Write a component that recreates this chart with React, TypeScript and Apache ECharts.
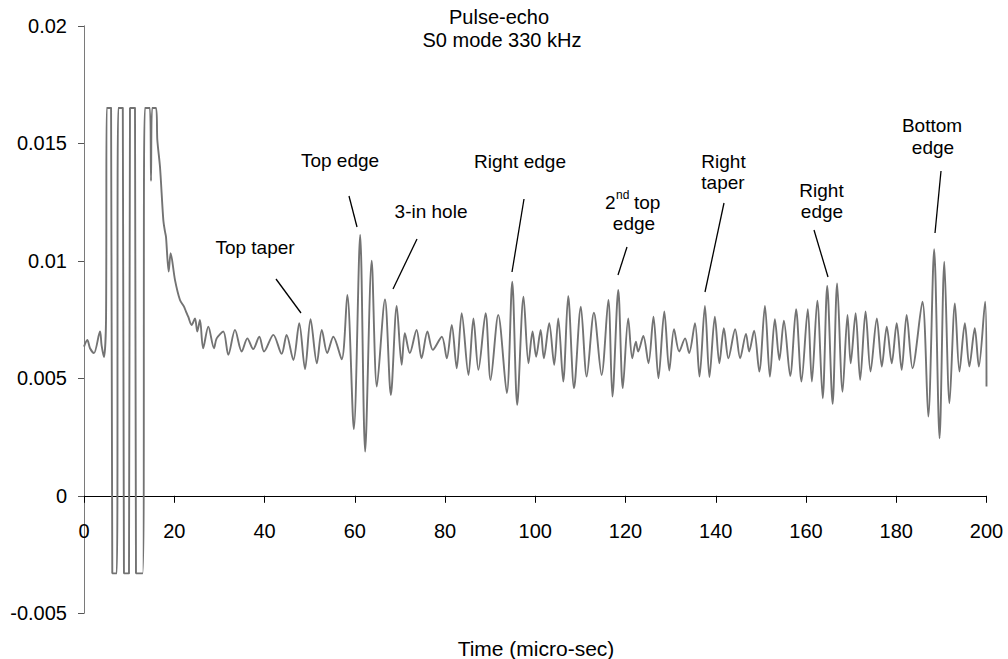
import React, { useEffect, useRef } from "react";
import * as echarts from "echarts";

const timeUs: number[] = [
  0, 0.74, 1.33, 2.2, 3.55, 3.9, 4.43, 4.88,
  5.03, 6.0, 6.27, 7.25, 7.6, 8.6, 8.85, 9.97, 10.19, 11.3, 11.52, 13.0, 13.5, 14.6, 14.85, 15.1, 15.96,
  16.25, 16.84, 17.58, 17.95, 18.17, 18.77, 19.2, 20.17, 21.27, 22.16, 22.6, 23.1, 23.86, 24.6, 25.1, 25.7,
  26.4, 27.55, 28.8, 29.4, 30.87, 31.98, 33.46, 34.95, 36.2, 37.5, 38.85, 39.9, 41.96, 43.8, 44.9, 46.4,
  47.7, 48.98, 50.2, 51.6, 52.7, 53.9, 55.25, 57.1, 58.35, 59.8, 61.2, 62.3, 63.75, 64.9, 66.7, 68.0,
  69.3, 70.4, 71.1, 72.2, 73.7, 74.8, 76.1, 77.3, 79.3, 80.4, 81.5, 82.6, 83.7, 85.2, 86.3, 87.4,
  89.0, 90.1, 91.8, 93.7, 94.9, 96.0, 97.4, 98.5, 99.4, 100.2, 101.2, 101.9, 103.1, 104.2, 105.1,
  106.2, 107.3, 108.6, 110.1, 111.4, 113.0, 114.7, 116.2, 117.1, 118.4, 119.4, 120.6, 121.5, 122.3,
  122.8, 123.95, 125.1, 126.2, 127.3, 128.6, 129.7, 130.75, 131.9, 133.2, 134.1, 135.4, 136.4, 137.6,
  138.6, 139.8, 140.8, 141.8, 142.8, 144.3, 145.4, 146.7, 147.4, 148.5, 149.65, 150.9, 152.0, 153.1,
  154.1, 155.1, 156.5, 157.8, 159.0, 160.4, 161.3, 162.5, 163.7, 164.7, 165.9, 166.9, 168.1, 169.2,
  169.9, 171.0, 172.0, 173.2, 174.3, 175.7, 176.8, 177.9, 179.0, 180.1, 181.2, 182.3, 183.6, 185.8,
  187.1, 188.4, 189.6, 190.65, 191.8, 193.0, 194.0, 195.2, 196.2, 197.4, 198.3, 199.7, 200,
];

const amplitude: number[] = [
  0.00635, 0.00663, 0.00628, 0.00607, 0.00699, 0.0064, 0.0059, 0.00748,
  0.0165, 0.0165, -0.0033, -0.0033, 0.0165, 0.0165, -0.0033, -0.0033, 0.0165, 0.0165, -0.0033, -0.0033, 0.0165, 0.0165, 0.0134, 0.0165, 0.0165,
  0.01514, 0.014, 0.01173, 0.01124, 0.01102, 0.00954, 0.01032, 0.00918, 0.00833, 0.00805, 0.00784, 0.00762, 0.00727, 0.00755, 0.00699, 0.00748,
  0.00628, 0.0072, 0.00628, 0.0067, 0.00699, 0.006, 0.00706, 0.00614, 0.0067, 0.00624, 0.00677, 0.00614, 0.00685, 0.00604, 0.00685, 0.00578,
  0.00734, 0.00539, 0.00751, 0.00564, 0.00706, 0.00607, 0.00677, 0.00581, 0.00855, 0.00284, 0.0111, 0.00188, 0.01, 0.00465, 0.00836, 0.00429,
  0.00808, 0.00557, 0.00692, 0.00607, 0.00706, 0.00585, 0.00699, 0.00621, 0.00677, 0.00585, 0.00727, 0.00543, 0.00777, 0.00514, 0.00755, 0.00536,
  0.00777, 0.00493, 0.0077, 0.00437, 0.00911, 0.00387, 0.00847, 0.00564, 0.00699, 0.00592, 0.00706, 0.00585, 0.00734, 0.00557, 0.00755,
  0.00486, 0.0085, 0.00458, 0.00805, 0.00507, 0.00779, 0.00514, 0.00833, 0.00422, 0.00876, 0.00458, 0.00755, 0.00585, 0.00656,
  0.00614, 0.0068, 0.00564, 0.00762, 0.005, 0.00784, 0.00533, 0.00709, 0.00614, 0.0067, 0.00607, 0.00734, 0.00507, 0.00808,
  0.00505, 0.00762, 0.00564, 0.00713, 0.00585, 0.00709, 0.00585, 0.00689, 0.00614, 0.00703, 0.00529, 0.00808, 0.00507, 0.00751,
  0.00578, 0.00745, 0.0051, 0.00794, 0.00486, 0.00794, 0.00486, 0.0083, 0.00415, 0.00893, 0.00391, 0.00904, 0.00443, 0.0077,
  0.00564, 0.00777, 0.00493, 0.00784, 0.00529, 0.00755, 0.0055, 0.0072, 0.00564, 0.00734, 0.00536, 0.0077, 0.00543, 0.00826,
  0.00337, 0.01049, 0.00245, 0.00996, 0.00394, 0.00819, 0.00529, 0.00734, 0.0055, 0.00713, 0.0055, 0.00826, 0.00465,
];

const titleLines: string[] = ["Pulse-echo", "S0 mode 330 kHz"];
const xAxisTitle = "Time (micro-sec)";

const FONT = "'Liberation Sans', Arial, Helvetica, sans-serif";

function txt(text: string, x: number, y: number, size: number, align: string = "center") {
  return {
    type: "text",
    x,
    y,
    silent: true,
    style: {
      text,
      fill: "#000",
      font: `${size}px ${FONT}`,
      textAlign: align,
      textVerticalAlign: "middle",
      align,
      verticalAlign: "middle",
    },
  };
}

function pointer(x1: number, y1: number, x2: number, y2: number) {
  return {
    type: "line",
    silent: true,
    shape: { x1, y1, x2, y2 },
    style: { stroke: "#000", lineWidth: 1.3 },
  };
}

export default function App() {
  const ref = useRef<HTMLDivElement>(null);

  useEffect(() => {
    if (!ref.current) return;
    const chart = echarts.init(ref.current, undefined, { renderer: "svg" });
    const data = timeUs.map((t, i) => [t, amplitude[i]]);
    const TF = 20; // tick labels
    const AF = 19; // annotations
    chart.setOption({
      animation: false,
      backgroundColor: "#fff",
      grid: { left: 84, right: 21.5, top: 25.8, bottom: 45.7, containLabel: false },
      xAxis: {
        type: "value",
        min: 0,
        max: 200,
        interval: 20,
        axisLine: { show: true, onZero: true, lineStyle: { color: "#000", width: 1 } },
        axisTick: { show: true, length: 7, lineStyle: { color: "#000" } },
        axisLabel: { margin: -92, fontSize: TF, color: "#000", fontFamily: FONT },
        splitLine: { show: false },
      },
      yAxis: {
        type: "value",
        min: -0.005,
        max: 0.02,
        interval: 0.005,
        axisLine: { show: true, onZero: false, lineStyle: { color: "#7a7a7a", width: 1 } },
        axisTick: { show: true, length: 6, lineStyle: { color: "#555" } },
        axisLabel: {
          margin: 17,
          fontSize: TF,
          color: "#000",
          fontFamily: FONT,
          formatter: (v: number) => String(parseFloat(v.toFixed(4))),
        },
        splitLine: { show: false },
      },
      series: [
        {
          type: "line",
          data,
          symbol: "none",
          showSymbol: false,
          smooth: 0.3,
          lineStyle: { color: "#737373", width: 1.9 },
          clip: true,
        },
      ],
      graphic: [
        txt(titleLines[0], 499, 17, 20),
        txt(titleLines[1], 502, 40, 20),
        txt(xAxisTitle, 536, 648, 21),
        txt("Top taper", 255, 247, AF),
        pointer(276, 279, 301, 313),
        txt("Top edge", 340, 160, AF),
        pointer(349, 196, 357, 227),
        txt("3-in hole", 431, 211, AF),
        pointer(417, 239, 393, 289),
        txt("Right edge", 520, 161, AF),
        pointer(524, 199, 512, 272),
        txt("2", 605, 202, AF, "left"),
        txt("nd", 616, 195, 12, "left"),
        txt("top", 634, 202, AF, "left"),
        txt("edge", 634, 223, AF),
        pointer(627, 247, 618, 275),
        txt("Right", 723.5, 161, AF),
        txt("taper", 723, 182, AF),
        pointer(724, 203, 705, 292),
        txt("Right", 821.5, 190, AF),
        txt("edge", 822, 211, AF),
        pointer(814, 230, 828, 277),
        txt("Bottom", 932, 125, AF),
        txt("edge", 933, 147, AF),
        pointer(941, 171, 935, 233),
      ],
    });
    return () => chart.dispose();
  }, []);

  return (
    <div
      ref={ref}
      style={{ position: "absolute", left: 0, top: 0, width: 1008, height: 659, background: "#fff" }}
    />
  );
}
